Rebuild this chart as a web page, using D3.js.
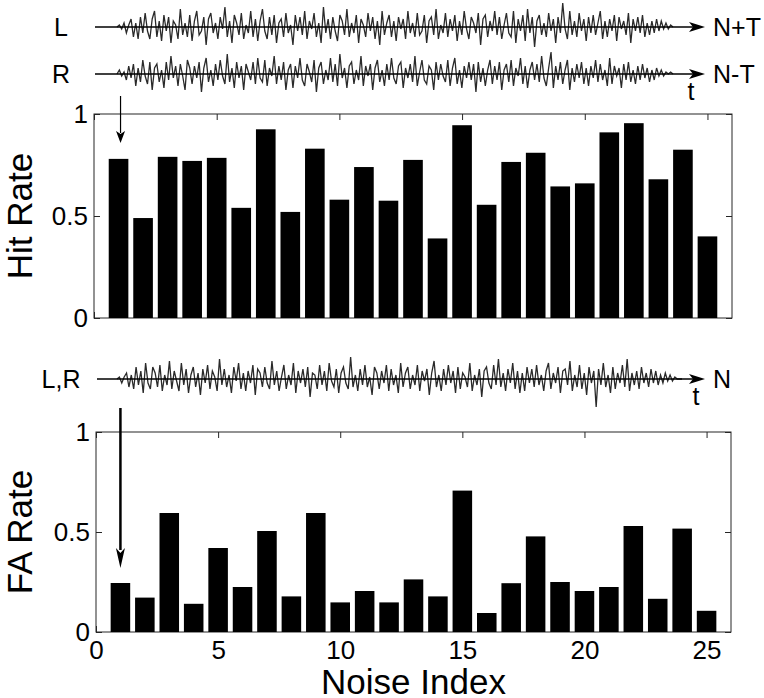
<!DOCTYPE html>
<html><head><meta charset="utf-8">
<script src="https://cdn.jsdelivr.net/npm/d3@7"></script>
<style>
body{margin:0;background:#fff}
svg{display:block}
text{font-family:"Liberation Sans",Arial,Helvetica,sans-serif;fill:#000}
</style>
</head><body>
<svg id="c" width="764" height="698"></svg>
<script>
// ---- data ----
const noiseIndex = [1,2,3,4,5,6,7,8,9,10,11,12,13,14,15,16,17,18,19,20,21,22,23,24,25];
const hitRate = [0.78,0.49,0.79,0.77,0.785,0.54,0.925,0.52,0.83,0.58,0.74,0.575,0.775,0.39,0.945,0.555,0.765,0.81,0.645,0.66,0.91,0.955,0.68,0.825,0.40];
const faRate  = [0.245,0.172,0.595,0.141,0.42,0.225,0.505,0.178,0.595,0.148,0.205,0.148,0.263,0.178,0.707,0.095,0.244,0.478,0.25,0.205,0.225,0.53,0.166,0.517,0.106];
const xTicks = [0,5,10,15,20,25];
const yTicks = [0,0.5,1];
const yTickLabels = ["0","0.5","1"];
const xLabel = "Noise Index";
const topYLabel = "Hit Rate";
const botYLabel = "FA Rate";
// waveform samples (hand-read shape of the noise tokens)
const waveL = [0,1,-1,2,-3,1,4,-5,2,-6,5,-3,7,-2,-6,4,8,-5,3,-7,
6,-2,5,-8,3,1,-6,9,-4,2,-5,6,-7,3,8,-4,-2,5,-9,4,
7,-3,2,-6,5,-1,10,-5,3,-8,6,2,-4,7,-6,1,-3,8,-5,4,
-7,3,9,-2,-6,5,-4,6,-8,2,4,-5,7,-3,1,-9,6,-2,5,-4,
8,-6,3,-1,7,-5,2,-8,10,-3,4,-6,5,-2,-7,6,3,-4,9,-5,
2,-3,6,-8,4,1,-5,7,-2,5,-6,3,-9,8,-4,2,6,-5,3,-7,
5,-1,4,-6,8,-3,2,-5,7,-4,-2,6,-8,3,5,-4,9,-6,1,-3,
7,-5,4,-2,6,-7,3,-4,8,-1,-6,5,2,-3,7,-9,4,6,-5,3,
-2,8,-4,5,-6,1,7,-3,-5,8,-8,4,-2,6,-7,9,-3,5,-10,3,
6,-4,2,-5,7,-2,4,-8,5,-3,12,-1,-6,8,-4,3,-5,7,-2,4,
-7,5,-3,6,-4,2,8,-6,3,-5,4,-2,6,-7,5,-1,3,-4,7,-8,
4,-2,5,-3,6,-5,2,-4,3,-3,4,-2,3,-1,2,-1,1,0];
const waveR = [0,2,-1,1,-3,4,-2,5,-6,3,-4,7,-1,-5,6,-8,3,5,-4,2,
-7,6,-3,9,-2,4,-6,5,-1,-8,7,3,-5,4,-2,6,-9,3,8,-4,
2,-6,5,-3,7,-1,-5,10,-4,3,-7,6,-2,4,-8,5,1,-3,6,-5,
8,-2,-4,7,-6,3,-1,9,-5,4,-3,6,-8,2,5,-7,4,-2,8,-3,
-6,5,1,-4,7,-9,3,6,-5,2,-3,8,-4,5,-6,10,-2,3,-7,4,
6,-5,2,-3,9,-6,4,-1,5,-8,3,7,-4,2,-6,5,-3,8,-2,-5,
4,6,-7,3,-2,5,-4,9,-6,1,7,-3,-5,4,2,-8,6,-3,5,-1,
-4,7,-6,3,8,-5,2,-7,4,-2,6,-3,5,-9,6,-4,3,-6,2,7,
-5,4,-3,6,-8,2,5,-4,7,-6,3,-1,8,-5,4,-7,2,6,-3,5,
-4,9,-2,-6,3,11,-7,4,-3,6,-5,2,7,-8,3,-4,5,-2,6,-5,
3,-6,4,-2,7,-4,5,-3,2,-6,8,-5,4,-1,3,-7,5,-3,6,-4,
2,-5,4,-3,5,-2,3,-4,2,-3,3,-1,2,-1,1,0,1,0];
const waveN = [0,1,-2,1,3,-4,2,-5,6,-3,4,-7,8,-2,-5,6,3,-4,7,-6,
2,-3,9,-5,4,-1,-6,8,-3,5,-7,2,6,-4,3,-8,5,-2,7,-5,
4,1,-6,10,-3,5,-4,2,-7,6,-1,8,-5,3,-6,4,-2,7,-8,5,
3,-4,6,-2,-5,9,-3,4,-6,1,7,-5,2,-3,8,-7,4,-2,5,-4,
6,-9,3,2,-5,7,-3,4,-6,8,-1,-4,5,-7,3,6,-2,-5,11,-4,
2,-6,5,-3,7,-4,1,-8,6,3,-5,4,-2,7,-6,5,-3,2,-7,8,
-4,3,6,-5,2,-3,7,-6,4,-1,5,-8,3,9,-4,2,-6,5,-3,7,
-2,4,-7,6,-5,3,1,-4,8,-6,2,-3,5,-9,4,6,-2,-5,7,-3,
10,-4,3,-6,5,-2,8,-5,4,-7,3,-6,6,-2,5,-4,7,-3,2,-6,
4,8,-5,3,-2,6,-7,4,5,-3,9,-6,2,-4,7,-5,3,-8,6,-2,
4,-14,5,-3,8,-4,2,-7,6,-5,3,-2,7,-4,10,-6,3,-3,4,-5,
6,-2,3,-4,5,-2,4,-3,2,-2,3,-1,2,-1,1,0,0,0];

const svg = d3.select("#c");

function panel(values, xr, yr, ylabel, showX){
  const x = d3.scaleLinear().domain([0,26]).range(xr);
  const y = d3.scaleLinear().domain([0,1]).range(yr);
  const g = svg.append("g");
  const axisColor = "#262626";
  const ax = [
    d3.axisLeft(y).tickValues(yTicks).tickFormat((d,i)=>yTickLabels[i]).tickSize(-6).tickPadding(6),
    d3.axisRight(y).tickValues(yTicks).tickFormat("").tickSize(-6),
    d3.axisTop(x).tickValues(xTicks).tickFormat("").tickSize(-6),
    d3.axisBottom(x).tickValues(xTicks).tickFormat(showX ? d3.format("d") : "").tickSize(-6).tickPadding(9)
  ];
  const pos = [`translate(${xr[0]},0)`,`translate(${xr[1]},0)`,`translate(0,${yr[1]})`,`translate(0,${yr[0]})`];
  ax.forEach((a,i)=>{
    const ag = g.append("g").attr("transform",pos[i]).call(a);
    ag.select(".domain").remove();
    ag.selectAll("line").attr("stroke",axisColor);
    ag.selectAll("text").attr("font-size",26).attr("font-family","Liberation Sans, Arial, sans-serif").attr("fill","#000");
  });
  g.append("rect").attr("x",xr[0]).attr("y",yr[1]).attr("width",xr[1]-xr[0]).attr("height",yr[0]-yr[1])
    .attr("fill","none").attr("stroke",axisColor).attr("stroke-width",1);
  const bw = (x(1)-x(0))*0.8;
  g.selectAll("rect.bar").data(values).enter().append("rect").attr("class","bar")
    .attr("x",(d,i)=>x(noiseIndex[i])-bw/2).attr("width",bw)
    .attr("y",d=>y(d)).attr("height",d=>y(0)-y(d)).attr("fill","#000");
  g.append("text").attr("transform",`translate(32,${(yr[0]+yr[1])/2}) rotate(-90)`)
    .attr("text-anchor","middle").attr("font-size",35).text(ylabel);
  return {x,y};
}

const topPanel = panel(hitRate,[94,732],[318,114],topYLabel,false);
const botPanel = panel(faRate,[96,731],[632,432],botYLabel,true);
svg.append("text").attr("x",(96+731)/2).attr("y",694).attr("text-anchor","middle").attr("font-size",35).text(xLabel);

function wave(data, y0, x0, x1, lineStart, tip, label, rightLabel){
  const wx = d3.scaleLinear().domain([0,data.length-1]).range([x0,x1]);
  const wy = d3.scaleLinear().domain([-12,12]).range([y0+24,y0-24]);
  svg.append("path").datum(data).attr("d",d3.line().x((d,i)=>wx(i)).y(d=>wy(d)))
    .attr("fill","none").attr("stroke","#2a2a2a").attr("stroke-width",1.3);
  svg.append("line").attr("x1",lineStart).attr("x2",tip-6).attr("y1",y0).attr("y2",y0)
    .attr("stroke","#000").attr("stroke-width",1.6);
  svg.append("path").attr("d",`M${tip},${y0} L${tip-16},${y0-5} L${tip-12},${y0} L${tip-16},${y0+5} Z`).attr("fill","#000");
  svg.append("text").attr("x",61).attr("y",y0+9).attr("text-anchor","middle").attr("font-size",25).text(label);
  svg.append("text").attr("x",tip+8).attr("y",y0+9).attr("font-size",25).text(rightLabel);
}
wave(waveL,27,117,673,95,705,"L","N+T");
wave(waveR,74,117,673,95,705,"R","N-T");
wave(waveN,379,117,682,97,705,"L,R","N");
svg.append("text").attr("x",691).attr("y",100).attr("text-anchor","middle").attr("font-size",25).text("t");
svg.append("text").attr("x",696).attr("y",405).attr("text-anchor","middle").attr("font-size",25).text("t");

function downArrow(xc, y1, y2, w, head){
  svg.append("line").attr("x1",xc).attr("x2",xc).attr("y1",y1).attr("y2",y2-head+2)
    .attr("stroke","#000").attr("stroke-width",w);
  svg.append("path").attr("d",`M${xc},${y2} L${xc-4.5},${y2-head} L${xc},${y2-head*0.75} L${xc+4.5},${y2-head} Z`).attr("fill","#000");
}
downArrow(topPanel.x(1)+2,96,143,1.2,12);
downArrow(botPanel.x(1),408,568,2.5,20);
</script>
</body></html>
